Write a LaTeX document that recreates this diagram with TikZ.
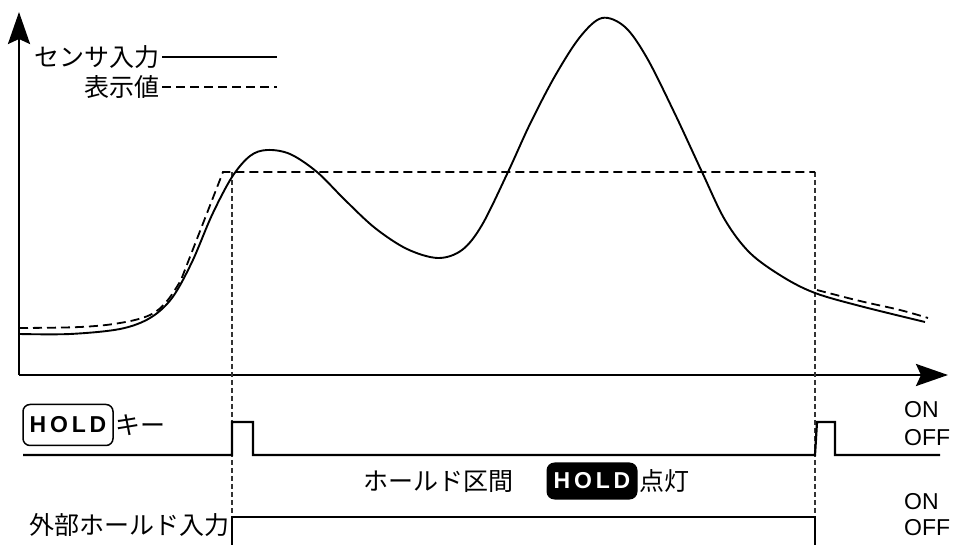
\documentclass[tikz,border=0pt]{standalone}
\usepackage{fontspec}
\setmainfont{Liberation Sans}
\newfontfamily\jp{Noto Sans CJK JP}
\usetikzlibrary{arrows.meta}
\begin{document}
\begin{tikzpicture}[x=1pt,y=-1pt,
  axisline/.style={line width=2.7pt,-{Stealth[length=32pt,width=22pt,inset=5pt]}},
  sensor/.style={line width=1.9pt,line join=round},
  disp/.style={line width=1.8pt,dash pattern=on 9pt off 5pt},
  guide/.style={line width=1.1pt,dash pattern=on 5pt off 3pt,black!80},
  sig/.style={line width=2.2pt},
  jp/.style={font=\jp\fontsize{25}{25}\selectfont,inner sep=0pt},
  onoff/.style={font=\fontsize{23}{23}\selectfont,inner sep=0pt,anchor=west},
  holdbox/.style={draw,line width=1.5pt,rounded corners=7pt,minimum width=90pt,minimum height=41pt,inner sep=0pt,font=\bfseries\fontsize{23}{23}\selectfont},
  holdlamp/.style={fill=black,text=white,rounded corners=8pt,minimum width=91pt,minimum height=37pt,inner sep=0pt,font=\bfseries\fontsize{23}{23}\selectfont}]
\useasboundingbox (0,0) rectangle (954,545);
% axes
\coordinate (O) at (19,375);
\coordinate (ytip) at (19,12);
\coordinate (xtip) at (948,375);
\draw[axisline] (O) -- (ytip);
\draw[axisline] (O) -- (xtip);
% legend
\node[jp,anchor=east] (lg1) at (160,57) {センサ入力};
\node[jp,anchor=east] (lg2) at (160,87) {表示値};
\coordinate (lg1e) at (277,57);
\coordinate (lg2e) at (277,87);
\draw[sensor,line width=2.2pt] (lg1.east) ++(2,0) -- (lg1e);
\draw[disp] (lg2.east) ++(2,0) -- (lg2e);
% guides
\coordinate (gL) at (232,172);
\coordinate (gLb) at (232,545);
\coordinate (gR) at (815,172);
\coordinate (gRb) at (815,545);
\draw[guide] (gL) -- (gLb);
\draw[guide] (gR) -- (gRb);
% sensor curve
\draw[sensor] plot[smooth,tension=0.55] coordinates {(19,334) (70,334) (120,329) (150,318) (172,298) (192,262) (212,215) (232,177) (250,156) (267,150) (290,154) (317,172) (345,200) (375,228) (407,249) (438,258) (462,250) (482,225) (508,172) (530,124) (555,76) (580,37) (602,18) (625,27) (647,58) (675,114) (702,172) (725,220) (750,253) (783,277) (815,293) (860,306) (925,322)};
% display value
\draw[disp] plot[smooth,tension=0.6] coordinates {(19,328) (80,327) (120,323) (150,315) (167,301) (181,280)} -- (223,172) -- (gR);
\draw[disp] plot[smooth,tension=0.6] coordinates {(817,290) (860,301) (900,310) (928,318)};
% HOLD key row
\node[holdbox] (hk) at (68,425) {H\,O\,L\,D};
\node[jp,anchor=west] (hkl) at (115,425) {キー};
\coordinate (k0) at (23,455);
\coordinate (k1) at (232,422);
\coordinate (k2) at (253,455);
\coordinate (k3) at (815,455);
\coordinate (k4) at (817,422);
\coordinate (k5) at (835,455);
\coordinate (k6) at (940,455);
\draw[sig] (k0) -| (k1) -| (k2) -- (k3) -- (k4) -| (k5) -- (k6);
\node[onoff] (on1) at (904,410) {ON};
\node[onoff] (off1) at (904,438) {OFF};
% hold interval label
\node[jp] (hi) at (438,482) {ホールド区間};
\node[holdlamp] (hl) at (592,481) {H\,O\,L\,D};
\node[jp,anchor=west] (hll) at (639,481) {点灯};
% external hold input
\node[jp,anchor=east] (ext) at (230,525) {外部ホールド入力};
\coordinate (e0) at (232,545);
\coordinate (e1) at (815,517);
\coordinate (e2) at (815,545);
\draw[sig] (e0) |- (e1) -- (e2);
\node[onoff] (on2) at (904,502) {ON};
\node[onoff] (off2) at (904,528) {OFF};
\end{tikzpicture}
\end{document}
